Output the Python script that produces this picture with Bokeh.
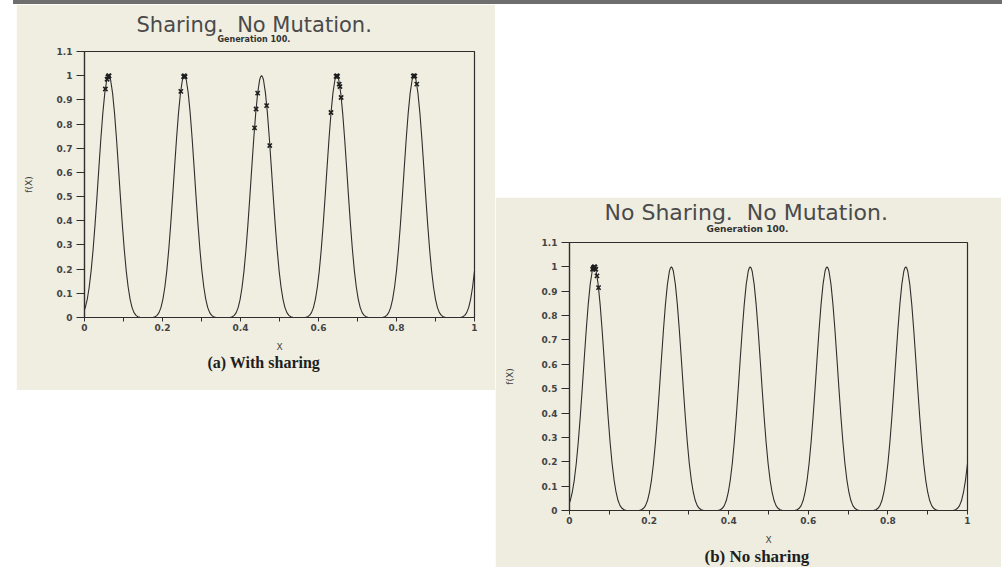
from bokeh.plotting import figure
from bokeh.layouts import row, column, Spacer
from bokeh.models import Title, FixedTicker, Range1d, Div
from bokeh.embed import file_html
from bokeh.resources import INLINE

# ---- data ----
peak_centers = [0.062, 0.256, 0.454, 0.647, 0.845, 1.045]
profile_offsets = [-0.09, -0.085, -0.08, -0.075, -0.07, -0.065, -0.06, -0.055, -0.05, -0.045,
                   -0.04, -0.035, -0.03, -0.025, -0.02, -0.015, -0.01, -0.005, -0.0025, 0.0,
                   0.0025, 0.005, 0.01, 0.015, 0.02, 0.025, 0.03, 0.035, 0.04, 0.045,
                   0.05, 0.055, 0.06, 0.065, 0.07, 0.075, 0.08, 0.085, 0.09]
profile_heights = [0.0, 0.0002, 0.001, 0.003, 0.009, 0.02, 0.041, 0.075, 0.125, 0.193,
                   0.28, 0.384, 0.5, 0.622, 0.74, 0.845, 0.928, 0.982, 0.995, 1.0,
                   0.995, 0.982, 0.928, 0.845, 0.74, 0.622, 0.5, 0.384, 0.28, 0.193,
                   0.125, 0.075, 0.041, 0.02, 0.009, 0.003, 0.001, 0.0002, 0.0]

sharing_x = [0.0535, 0.058, 0.060, 0.062, 0.063, 0.247, 0.254, 0.256, 0.258,
             0.444, 0.440, 0.436, 0.467, 0.475, 0.632, 0.645, 0.647, 0.649, 0.653,
             0.655, 0.658, 0.843, 0.845, 0.847, 0.852]
sharing_y = [0.945, 0.985, 0.995, 1.0, 0.999, 0.935, 0.996, 1.0, 0.996,
             0.928, 0.862, 0.784, 0.876, 0.711, 0.848, 0.997, 1.0, 0.997, 0.965,
             0.955, 0.91, 0.998, 1.0, 0.998, 0.965]

nosharing_x = [0.058, 0.060, 0.061, 0.062, 0.063, 0.064, 0.066, 0.069, 0.073]
nosharing_y = [0.99, 0.995, 0.998, 1.0, 1.0, 0.999, 0.99, 0.963, 0.915]

x_ticks = [0, 0.2, 0.4, 0.6, 0.8, 1]
x_tick_labels = ["0", "0.2", "0.4", "0.6", "0.8", "1"]
x_minor_ticks = [0.1, 0.3, 0.5, 0.7, 0.9]
y_ticks = [0, 0.1, 0.2, 0.3, 0.4, 0.5, 0.6, 0.7, 0.8, 0.9, 1, 1.1]
y_tick_labels = ["0", "0.1", "0.2", "0.3", "0.4", "0.5", "0.6", "0.7", "0.8", "0.9", "1", "1.1"]

curve_x = [c + o for c in peak_centers for o in profile_offsets]
curve_y = [h for c in peak_centers for h in profile_heights]

INK = "#2e2e2e"
NB = "\u00a0"


def panel(main, sub, caption, px, py, width, height, borders, bg,
          main_size, sub_size, cap_size, main_off, sub_off, cap_off,
          sub_standoff, main_standoff, ylab_stand):
    left, right, top, bottom = borders
    p = figure(width=width, height=height, title=None, output_backend="svg",
               toolbar_location=None, x_range=Range1d(0, 1), y_range=Range1d(0, 1.1),
               min_border_left=left, min_border_right=right,
               min_border_top=top, min_border_bottom=bottom)
    p.background_fill_color = bg
    p.border_fill_color = bg
    p.outline_line_color = INK
    p.outline_line_width = 1.2
    p.xgrid.visible = False
    p.ygrid.visible = False

    p.line(curve_x, curve_y, line_color=INK, line_width=1.1)
    p.scatter(px, py, marker="x", size=6, line_color="#1e1e1e", line_width=1.6)

    for ax in (p.xaxis[0], p.yaxis[0]):
        ax.axis_line_color = INK
        ax.axis_line_width = 1.2
        ax.major_tick_line_color = INK
        ax.minor_tick_line_color = INK
        ax.major_tick_in = 0
        ax.minor_tick_in = 0
        ax.major_label_text_font = "DejaVu Sans"
        ax.major_label_text_font_style = "bold"
        ax.major_label_text_font_size = "9px"
        ax.major_label_text_color = "#444444"
        ax.axis_label_text_font = "DejaVu Sans"
        ax.axis_label_text_font_style = "normal"
        ax.axis_label_text_font_size = "9px"
        ax.axis_label_text_color = "#444444"

    xa = p.xaxis[0]
    xa.ticker = FixedTicker(ticks=x_ticks, minor_ticks=x_minor_ticks)
    xa.major_label_overrides = dict(zip(x_ticks, x_tick_labels))
    xa.major_tick_out = 4
    xa.minor_tick_out = 4
    xa.major_label_standoff = 2
    xa.axis_label = "X"
    xa.axis_label_standoff = 8

    ya = p.yaxis[0]
    ya.ticker = FixedTicker(ticks=y_ticks, minor_ticks=[])
    ya.major_label_overrides = dict(zip(y_ticks, y_tick_labels))
    ya.major_tick_out = 8
    ya.major_label_standoff = 4
    ya.axis_label = "f(X)"
    ya.axis_label_standoff = ylab_stand

    p.add_layout(Title(text=sub, align="left", offset=sub_off, text_font="DejaVu Sans",
                       text_font_style="bold", text_font_size=sub_size, text_color="#333333",
                       standoff=sub_standoff), "above")
    p.add_layout(Title(text=main, align="left", offset=main_off, text_font="DejaVu Sans",
                       text_font_style="normal", text_font_size=main_size, text_color="#4a4a4a",
                       standoff=main_standoff), "above")
    p.add_layout(Title(text=caption, align="left", offset=cap_off, text_font="Liberation Serif",
                       text_font_style="bold", text_font_size=cap_size, text_color="#1e1e1e",
                       standoff=-5), "below")
    return p


left_fig = panel("Sharing." + NB + NB + "No Mutation.", "Generation 100.", "(a) With sharing",
                 sharing_x, sharing_y, 479, 386, (68, 21, 47, 73), "#efeee1",
                 "21px", "8px", "16px", 52, 133, 123, 16, -24, 20)
right_fig = panel("No Sharing." + NB + NB + "No Mutation.", "Generation 100.", "(b) No sharing",
                  nosharing_x, nosharing_y, 506, 370, (74, 34, 45, 57), "#eeede0",
                  "22px", "9px", "17px", 35, 137, 135, 18, -25, 24)

top_bar = Div(text="", width=989, height=4, margin=(0, 0, 0, 0),
              styles={"background-color": "#6e6e6e"})

layout = column(
    row(Spacer(width=13, height=4), top_bar),
    row(Spacer(width=16, height=386),
        left_fig,
        column(Spacer(width=506, height=193), right_fig)),
)

open("out.html", "w").write(file_html(layout, INLINE))
